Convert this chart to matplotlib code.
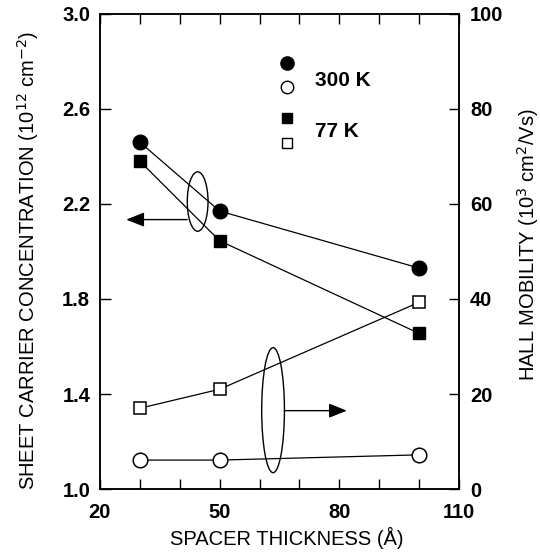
import matplotlib
matplotlib.use("Agg")
import matplotlib.pyplot as plt
from matplotlib.patches import Ellipse
from matplotlib.ticker import MultipleLocator, FixedLocator

plt.rcParams['font.family'] = ['Liberation Sans', 'DejaVu Sans']

# Data
spacer = [30, 50, 100]                 # spacer thickness (Å)
ns_300K = [2.46, 2.17, 1.93]           # sheet carrier concentration (1e12 cm^-2)
ns_77K = [2.38, 2.045, 1.655]
mu_300K = [6.1, 6.1, 7.2]              # Hall mobility (1e3 cm^2/Vs)
mu_77K = [17.0, 21.0, 39.3]

xticks_major = [20, 50, 80, 110]
yticks_left = [1.0, 1.4, 1.8, 2.2, 2.6, 3.0]
yticks_right = [0, 20, 40, 60, 80, 100]

fig = plt.figure(figsize=(5.4, 5.52), dpi=100)
ax = fig.add_axes([0.185, 0.114, 0.665, 0.861])
ax2 = ax.twinx()

lw = 0.9
ax.plot(spacer, ns_300K, '-o', color='black', lw=lw, ms=10.5, mfc='black', mec='black')
ax.plot(spacer, ns_77K, '-s', color='black', lw=lw, ms=9, mfc='black', mec='black')
ax2.plot(spacer, mu_300K, '-o', color='black', lw=lw, ms=10.5, mfc='white', mec='black', mew=1.1)
ax2.plot(spacer, mu_77K, '-s', color='black', lw=lw, ms=9, mfc='white', mec='black', mew=1.1)

ax.set_xlim(20, 110)
ax.set_ylim(1.0, 3.0)
ax2.set_ylim(0, 100)

ax.xaxis.set_major_locator(FixedLocator(xticks_major))
ax.xaxis.set_minor_locator(MultipleLocator(10))
ax.set_yticks(yticks_left)
ax.set_yticklabels([f"{v:.1f}" for v in yticks_left])
ax2.set_yticks(yticks_right)

ax.tick_params(axis='x', which='both', direction='in', top=True, length=7, width=1, pad=10)
ax.tick_params(axis='y', which='both', direction='in', length=8, width=1, pad=7)
ax2.tick_params(axis='y', direction='in', length=7, width=1, pad=8)

for a in (ax, ax2):
    for lab in a.get_xticklabels() + a.get_yticklabels():
        lab.set_fontweight('bold')
        lab.set_fontsize(14.5)
    for s in a.spines.values():
        s.set_linewidth(1.1)

fs_lab = 14.5
ax.set_xlabel("SPACER THICKNESS (Å)", fontsize=fs_lab)
ax.set_ylabel("SHEET CARRIER CONCENTRATION (10$^{12}$ cm$^{-2}$)", fontsize=fs_lab)
ax2.set_ylabel("HALL MOBILITY (10$^{3}$ cm$^{2}$/Vs)", fontsize=fs_lab)
ax.xaxis.set_label_coords(0.52, -0.08)
ax.yaxis.set_label_coords(-0.163, 0.48)
ax2.yaxis.set_label_coords(1.155, 0.515)

# Left group ellipse and arrow
ax.add_patch(Ellipse((44.5, 2.21), 5.2, 0.25, fill=False, lw=1.0, ec='black'))
ax.annotate("", xy=(26.6, 2.134), xytext=(41.9, 2.134),
            arrowprops=dict(arrowstyle='-|>,head_length=1.0,head_width=0.4',
                            mutation_scale=11, lw=1.0, color='black',
                            shrinkA=0, shrinkB=0))

# Right group ellipse and arrow
ax2.add_patch(Ellipse((63.4, 16.6), 5.7, 26.3, fill=False, lw=1.0, ec='black'))
ax2.annotate("", xy=(81.9, 16.5), xytext=(66.2, 16.5),
             arrowprops=dict(arrowstyle='-|>,head_length=1.0,head_width=0.4',
                             mutation_scale=11, lw=1.0, color='black',
                             shrinkA=0, shrinkB=0))

# Legend (manual)
T = ax.transAxes
ax.plot([0.522], [0.897], 'o', transform=T, ms=9.5, color='black', clip_on=False)
ax.plot([0.522], [0.845], 'o', transform=T, ms=9, mfc='white', mec='black', mew=1.0, clip_on=False)
ax.plot([0.522], [0.781], 's', transform=T, ms=7.5, color='black', clip_on=False)
ax.plot([0.522], [0.728], 's', transform=T, ms=7.5, mfc='white', mec='black', mew=1.0, clip_on=False)
ax.text(0.6, 0.86, "300 K", transform=T, fontsize=15, fontweight='bold', va='center', ha='left')
ax.text(0.6, 0.752, "77 K", transform=T, fontsize=15, fontweight='bold', va='center', ha='left')

fig.savefig("out.png", dpi=100)
